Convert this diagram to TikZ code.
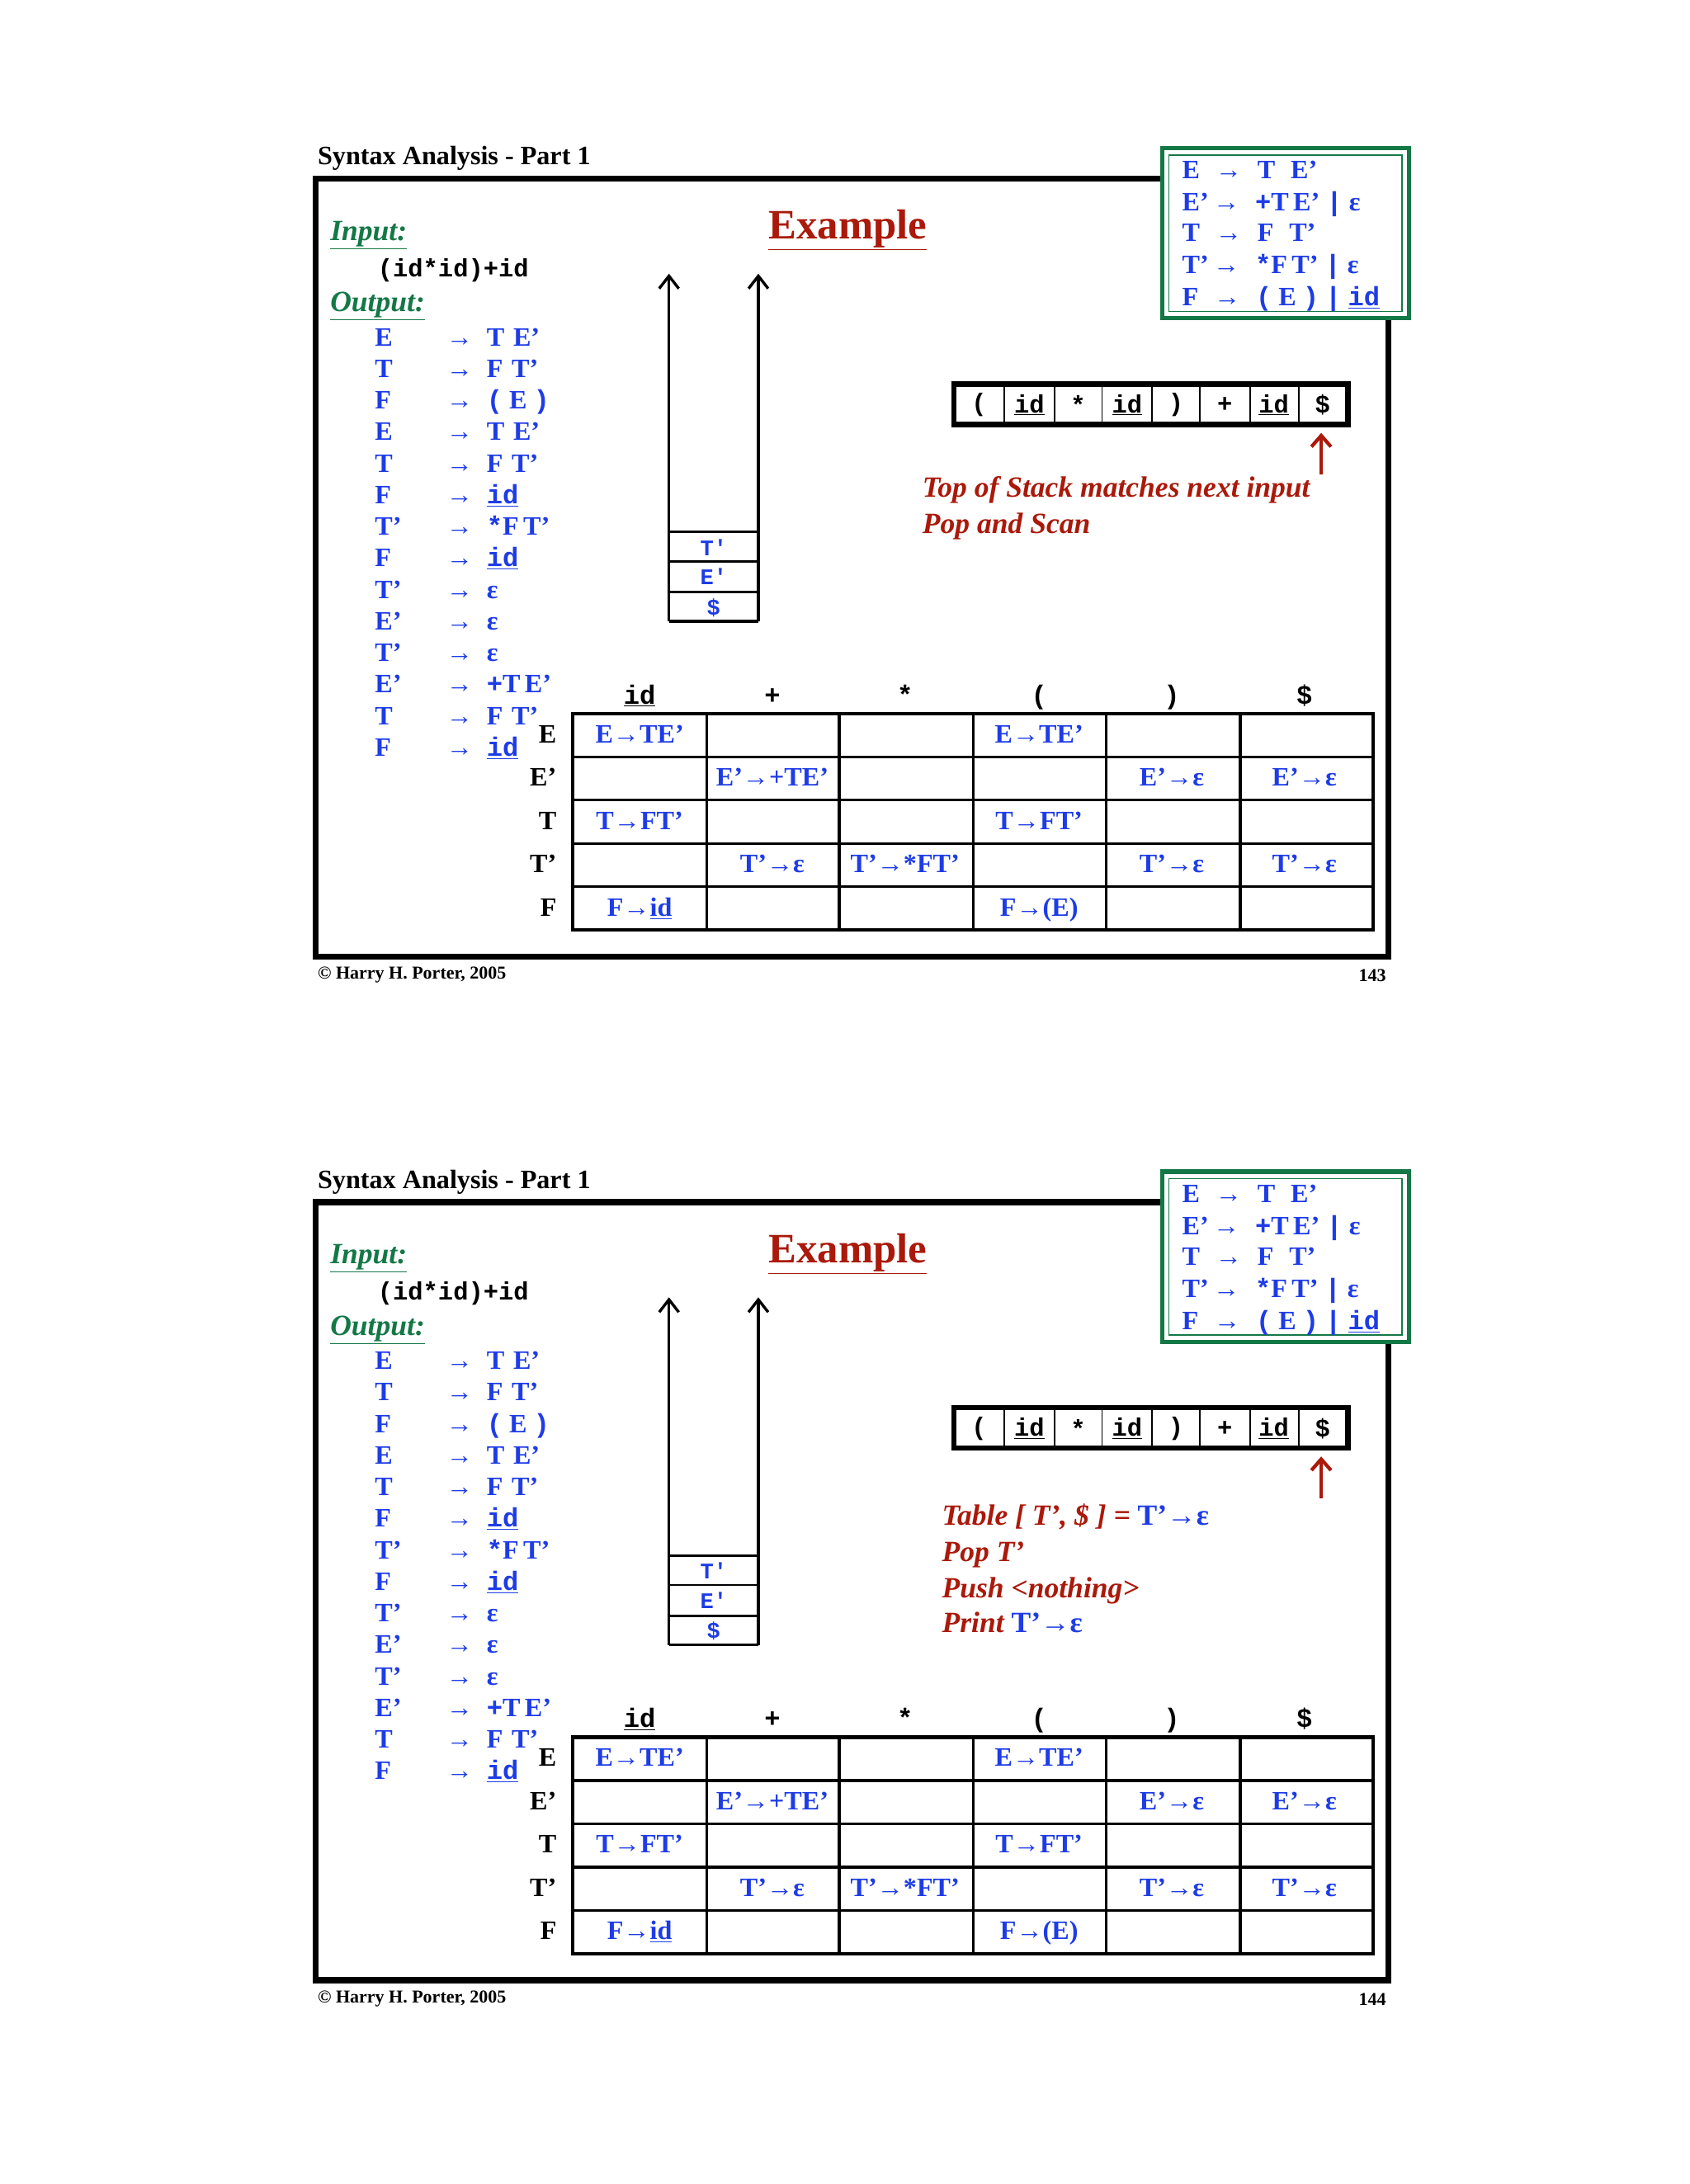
\documentclass[tikz,border=0pt]{standalone}
\usepackage{fontspec}
\setmainfont{Liberation Serif}
\newfontfamily\mono{Liberation Mono}
\usetikzlibrary{arrows.meta}
\definecolor{gb}{RGB}{20,120,70}
\definecolor{bl}{RGB}{30,60,230}
\definecolor{rd}{RGB}{170,25,10}
\newcommand\cd[1]{{\mono\bfseries #1}}
\newcommand\ul[1]{\underline{#1}}
\newcommand\ar{\textrightarrow}
\newcommand\myslide[3]{%
 \node[anchor=base west,font=\bfseries\fontsize{19}{19}\selectfont] (title#1) at (224,118) {Syntax Analysis - Part 1};
 \draw[line width=4.5pt] (226,128) rectangle (994,685);
 \node[anchor=base west,font=\bfseries\fontsize{13}{13}\selectfont] (copy#1) at (224,701) {\textcopyright\ Harry H. Porter, 2005};
 \node[anchor=base east,font=\bfseries\fontsize{13}{13}\selectfont] (num#1) at (996,703) {#2};
 % grammar box
 \fill[white] (832,106) rectangle (1009,228);
 \draw[gb,line width=3pt] (832,106) rectangle (1009,228);
 \draw[gb,line width=1pt] (837,111) rectangle (1004,223);
 \begin{scope}[every node/.style={anchor=base west,text=bl,font=\bfseries\fontsize{19}{19}\selectfont}]
  \node (g1#1) at (843,128) {E\,\, \ar\,\, T\,\, E'};
  \node (g2#1) at (843,151) {E'\,\ar\,\, \cd{+}T\,E' \cd{|} ε};
  \node (g3#1) at (843,173) {T\,\, \ar\,\, F\,\, T'};
  \node (g4#1) at (843,196) {T'\,\ar\,\, \cd{*}F\,T' \cd{|} ε};
  \node (g5#1) at (843,219) {F\,\, \ar\,\, \cd{(} E \cd{)} \cd{|} \cd{\ul{id}}};
 \end{scope}
 \node[anchor=base west,text=gb,font=\bfseries\itshape\fontsize{21}{21}\selectfont] (in#1) at (233,172) {\ul{Input:}};
 \node[anchor=base west,font=\mono\bfseries\fontsize{18}{18}\selectfont] (ins#1) at (267,198) {(id*id)+id};
 \node[anchor=base west,text=gb,font=\bfseries\itshape\fontsize{21}{21}\selectfont] (out#1) at (233,223) {\ul{Output:}};
 \foreach \l/\r [count=\i] in {E/T\,\,E',T/F\,\,T',F/\cd{(} E \cd{)},E/T\,\,E',T/F\,\,T',F/\cd{\ul{id}},T'/\cd{*}F\,T',F/\cd{\ul{id}},T'/ε,E'/ε,T'/ε,E'/\cd{+}T\,E',T/F\,\,T',F/\cd{\ul{id}}}{
  \node[anchor=base west,text=bl,font=\bfseries\fontsize{19}{19}\selectfont] (ol\i#1) at (265,{225+22.6*\i}) {\l};
  \node[anchor=base west,text=bl,font=\bfseries\fontsize{19}{19}\selectfont] (oa\i#1) at (316,{225+22.6*\i}) {\ar};
  \node[anchor=base west,text=bl,font=\bfseries\fontsize{19}{19}\selectfont] (or\i#1) at (345,{225+22.6*\i}) {\r};
 }
 \node[anchor=base,text=rd,font=\bfseries\fontsize{30}{30}\selectfont] (ex#1) at (607,171) {\ul{Example}};
 % stack
 \coordinate (sl#1) at (479,196); \coordinate (sr#1) at (543,196);
 \draw[line width=2pt,-{Straight Barb[length=9pt,width=14pt,line width=2pt]}] (479,445) -- (sl#1);
 \draw[line width=2pt,-{Straight Barb[length=9pt,width=14pt,line width=2pt]}] (543,445) -- (sr#1);
 \draw[line width=2pt] (479,445) -- (543,445);
 \foreach \y/\t [count=\i] in {381/T',402/E',424/\$}{
  \draw[line width=1.6pt] (479,\y) -- (543,\y);
  \node[text=bl,font=\mono\bfseries\fontsize{16}{16}\selectfont] (st\i#1) at (511,{\y+11}) {\t};
 }
 % input tape
 \draw[line width=4pt] (683,275) rectangle (965,304);
 \foreach \x in {719,755,789,825,859,895,930} \draw[line width=1pt] (\x,277) -- (\x,302);
 \foreach \x/\t [count=\i] in {701/(,737/\ul{id},772/*,807/\ul{id},842/),877/+,912/\ul{id},947/\$}
  \node[font=\mono\bfseries\fontsize{18}{18}\selectfont] (tp\i#1) at (\x,290) {\t};
 \coordinate (ra#1) at (946,310); \coordinate (rb#1) at (946,340);
 \draw[rd,line width=2.5pt,-{Straight Barb[length=8pt,width=14pt,line width=2.5pt]}] (rb#1) -- (ra#1);
 #3
 % table
 \foreach \x/\t [count=\i] in {458/\ul{id},553/+,648/*,744/(,839/),934/\$}
  \node[anchor=base,font=\mono\bfseries\fontsize{19}{19}\selectfont] (h\i#1) at (\x,504) {\t};
 \draw[line width=2.5pt] (410,511) rectangle (983,666);
 \foreach \x in {506,601,697,792,888} \draw[line width=2pt] (\x,511) -- (\x,666);
 \foreach \y in {542,573,604,635} \draw[line width=2pt] (410,\y) -- (983,\y);
 \foreach \t/\y [count=\i] in {E/532,E'/563,T/594,T'/625,F/656}
  \node[anchor=base east,font=\bfseries\fontsize{19}{19}\selectfont] (rl\i#1) at (402,\y) {\t};
 \begin{scope}[every node/.style={anchor=base,text=bl,font=\bfseries\fontsize{19}{19}\selectfont}]
  \node (c11#1) at (458,532) {E\ar TE'};
  \node (c14#1) at (744,532) {E\ar TE'};
  \node (c22#1) at (553,563) {E'\ar+TE'};
  \node (c25#1) at (839,563) {E'\ar ε};
  \node (c26#1) at (934,563) {E'\ar ε};
  \node (c31#1) at (458,594) {T\ar FT'};
  \node (c34#1) at (744,594) {T\ar FT'};
  \node (c42#1) at (553,625) {T'\ar ε};
  \node (c43#1) at (648,625) {T'\ar*FT'};
  \node (c45#1) at (839,625) {T'\ar ε};
  \node (c46#1) at (934,625) {T'\ar ε};
  \node (c51#1) at (458,656) {F\ar\ul{id}};
  \node (c54#1) at (744,656) {F\ar(E)};
 \end{scope}
}
\begin{document}
\begin{tikzpicture}[x=1pt,y=-1pt]
\fill[white] (0,0) rectangle (1210,1564);
\useasboundingbox (0,0) rectangle (1210,1564);
\myslide{a}{143}{%
 \begin{scope}[every node/.style={anchor=base west,text=rd,font=\bfseries\itshape\fontsize{21}{21}\selectfont}]
  \node (m1a) at (657,356) {Top of Stack matches next input};
  \node (m2a) at (657,382) {Pop and Scan};
 \end{scope}}
\begin{scope}[yshift=-733pt]
\myslide{b}{144}{%
 \begin{scope}[every node/.style={anchor=base west,text=rd,font=\bfseries\itshape\fontsize{21}{21}\selectfont}]
  \node (m1b) at (671,359) {Table [ T', \$ ] = \textcolor{bl}{\upshape T'\ar ε}};
  \node (m2b) at (671,385) {Pop T'};
  \node (m3b) at (671,411) {Push <nothing>};
  \node (m4b) at (671,436) {Print \textcolor{bl}{\upshape T'\ar ε}};
 \end{scope}}
\end{scope}
\end{tikzpicture}
\end{document}
